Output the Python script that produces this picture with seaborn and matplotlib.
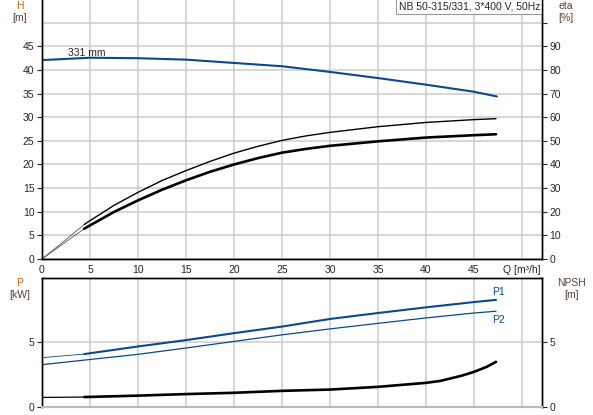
import numpy as np
import pandas as pd
import seaborn as sns
import matplotlib.pyplot as plt

# pump curve data
q_h = [0, 5, 10, 15, 20, 25, 30, 35, 40, 45, 47.4]
head = [42.1, 42.6, 42.5, 42.2, 41.5, 40.8, 39.6, 38.3, 36.9, 35.4, 34.4]

q_eta1 = [0, 2.5, 4.4, 5, 7.5, 10, 12.5, 15, 17.5, 20, 22.5, 25, 27.5, 30, 35, 40, 45, 47.3]
eta1 = [0, 8.2, 14.6, 16.2, 22.7, 28.2, 33.2, 37.4, 41.3, 44.8, 47.7, 50.2, 52.1, 53.6, 56.0, 57.8, 59.0, 59.4]
q_eta2 = [4.4, 5, 7.5, 10, 12.5, 15, 17.5, 20, 22.5, 25, 27.5, 30, 35, 40, 45, 47.3]
eta2 = [12.8, 14.2, 19.9, 24.8, 29.3, 33.3, 36.9, 40.0, 42.7, 45.0, 46.6, 47.9, 49.8, 51.4, 52.4, 52.8]

q_p1 = [4.4, 10, 15, 20, 25, 30, 35, 40, 45, 47.3]
p1 = [4.10, 4.69, 5.18, 5.72, 6.23, 6.82, 7.28, 7.72, 8.13, 8.30]
q_p2 = [0, 10, 15, 20, 25, 30, 35, 40, 45, 47.3]
p2 = [3.28, 4.08, 4.57, 5.08, 5.59, 6.05, 6.48, 6.90, 7.28, 7.42]

q_npsh = [4.4, 10, 15, 20, 25, 30, 35, 40, 41.5, 42.5, 43.75, 45, 46.3, 47.3]
npsh = [0.77, 0.88, 1.0, 1.1, 1.25, 1.35, 1.56, 1.87, 2.02, 2.2, 2.43, 2.72, 3.1, 3.5]

x_ticks = [0, 5, 10, 15, 20, 25, 30, 35, 40, 45, 50]
x_labels = ['0', '5', '10', '15', '20', '25', '30', '35', '40', '45', 'Q [m³/h]']
title_text = 'NB 50-315/331, 3*400 V, 50Hz'

sns.set_style('white')
plt.rcParams['font.family'] = ['Liberation Sans', 'DejaVu Sans']
plt.rcParams['font.size'] = 7.5

blue = '#0a4a8a'
grid_c = '#cccccc'
lab_c = '#c0640a'
unit_c = '#5a4030'

fig = plt.figure(figsize=(5.93, 4.15), dpi=100)
ax = fig.add_axes([0.0708, 0.376, 0.843, 0.626])
ax_eta = ax.twinx()
bx = fig.add_axes([0.0708, 0.0193, 0.843, 0.311])
bx_n = bx.twinx()

# ---- top: head + efficiency
sns.lineplot(x=q_h, y=head, ax=ax, color=blue, linewidth=1.5, zorder=5)
sns.lineplot(x=q_eta1[:3], y=eta1[:3], ax=ax_eta, color='#555555', linewidth=0.6)
sns.lineplot(x=q_eta1[2:], y=eta1[2:], ax=ax_eta, color='black', linewidth=1.0)
sns.lineplot(x=[0, q_eta2[0]], y=[0, eta2[0]], ax=ax_eta, color='#555555', linewidth=0.6)
sns.lineplot(x=q_eta2, y=eta2, ax=ax_eta, color='black', linewidth=1.9)

ax.set_xlim(0, 52.08)
ax.set_ylim(0, 55)
ax_eta.set_ylim(0, 110)
ax.set_xticks(x_ticks)
ax.set_xticklabels(x_labels)
ax.set_yticks(range(0, 50, 5))
ax.set_yticks([50], minor=True)
ax.grid(True, which='both', color=grid_c, linewidth=1.1)
ax.set_axisbelow(True)
ax_eta.set_yticks(range(0, 110, 10))
ax_eta.set_yticklabels([str(v) for v in range(0, 100, 10)] + [''])
ax_eta.grid(False)
for a in (ax, ax_eta):
    a.tick_params(direction='out', length=3.5, width=0.8, pad=2, labelsize=7.5)
    a.tick_params(axis='y', which='minor', length=0)
    a.spines['top'].set_visible(False)
    for s in ('left', 'right', 'bottom'):
        a.spines[s].set_color('black')
        a.spines[s].set_linewidth(1.0)
ax.tick_params(axis='x', length=0, pad=4)

ax.text(2.7, 43.6, '331 mm', va='center', ha='left', fontsize=7.5)
ax.text(0.996, 0.992, title_text, transform=ax.transAxes, ha='right', va='top',
        fontsize=7.5, bbox=dict(boxstyle='square,pad=0.25', fc='white', ec='#999999', lw=0.8), zorder=10)

fig.text(20 / 593, 1 - 6 / 415, 'H', ha='center', va='center', color=lab_c, fontsize=7.5)
fig.text(20 / 593, 1 - 18 / 415, '[m]', ha='center', va='center', color=unit_c, fontsize=7.5)
fig.text(566 / 593, 1 - 6 / 415, 'eta', ha='center', va='center', color=unit_c, fontsize=7.5)
fig.text(566 / 593, 1 - 18 / 415, '[%]', ha='center', va='center', color=unit_c, fontsize=7.5)

# ---- bottom: power + NPSH
sns.lineplot(x=[0, q_p1[0]], y=[3.82, p1[0]], ax=bx, color=blue, linewidth=0.6)
sns.lineplot(x=q_p1, y=p1, ax=bx, color=blue, linewidth=1.5)
sns.lineplot(x=q_p2, y=p2, ax=bx, color=blue, linewidth=0.9)
sns.lineplot(x=[0, q_npsh[0]], y=[0.74, npsh[0]], ax=bx_n, color='black', linewidth=0.9)
sns.lineplot(x=q_npsh, y=npsh, ax=bx_n, color='black', linewidth=1.9)

bx.set_xlim(0, 52.08)
bx.set_ylim(0, 10)
bx_n.set_ylim(0, 10)
bx.set_xticks(x_ticks)
bx.set_xticklabels([])
bx.set_yticks([0, 5])
bx_n.set_yticks([0, 5])
bx.grid(True, color=grid_c, linewidth=1.1)
bx.set_axisbelow(True)
bx_n.grid(False)
for a in (bx, bx_n):
    a.tick_params(direction='out', length=3.5, width=0.8, pad=2, labelsize=7.5)
    for s in ('left', 'right', 'top'):
        a.spines[s].set_color('black')
        a.spines[s].set_linewidth(1.0)
    a.spines['bottom'].set_color('#bbbbbb')
    a.spines['bottom'].set_linewidth(1.5)
bx.tick_params(axis='x', length=0)

bx.text(46.9, 8.55, 'P1', ha='left', va='bottom', color=blue, fontsize=7.5)
bx.text(46.9, 7.15, 'P2', ha='left', va='top', color=blue, fontsize=7.5)

fig.text(20 / 593, 1 - 283 / 415, 'P', ha='center', va='center', color=lab_c, fontsize=7.5)
fig.text(20 / 593, 1 - 295 / 415, '[kW]', ha='center', va='center', color=unit_c, fontsize=7.5)
fig.text(572 / 593, 1 - 283 / 415, 'NPSH', ha='center', va='center', color=unit_c, fontsize=7.5)
fig.text(572 / 593, 1 - 295 / 415, '[m]', ha='center', va='center', color=unit_c, fontsize=7.5)

fig.savefig('out.png', dpi=100)
